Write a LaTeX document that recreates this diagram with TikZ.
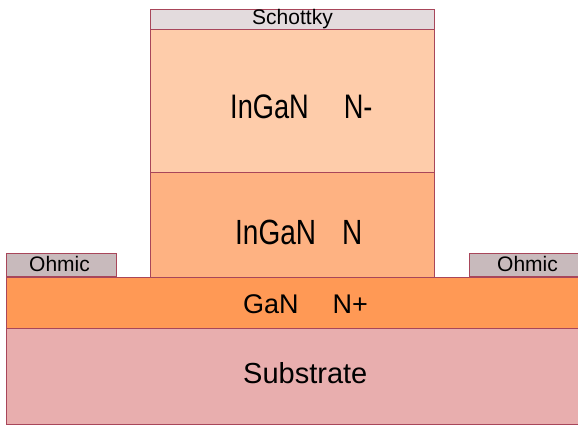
\documentclass[tikz,border=0pt]{standalone}
\usepackage{fontspec}
\setmainfont{Liberation Sans}
\newfontfamily\narrowfont[FakeStretch=0.8]{Liberation Sans}
\usepackage{xcolor}
\usepackage{tikz}
\usetikzlibrary{positioning}

\definecolor{edgecol}{RGB}{168,70,90}
\definecolor{subfill}{RGB}{232,174,174}
\definecolor{ganfill}{RGB}{255,153,85}
\definecolor{nfill}{RGB}{254,178,130}
\definecolor{nminusfill}{RGB}{254,204,170}
\definecolor{schottkyfill}{RGB}{227,219,221}
\definecolor{ohmicfill}{RGB}{200,186,188}

\begin{document}
\begin{tikzpicture}[
    x=1pt, y=-1pt,
    layer/.style={
        draw=edgecol,
        line width=1pt,
        rectangle,
        inner sep=0pt,
        anchor=north west
    },
    caption/.style={
        inner sep=0pt,
        anchor=base west
    }
]
    \useasboundingbox (0,0) rectangle (578,427);

    % Substrate and buffer layers
    \node[layer, fill=subfill, minimum width=572pt, minimum height=96pt] (substrate) at (6,328) {};
    \node[layer, fill=ganfill, minimum width=572pt, minimum height=51pt] (gan) at (6,277) {};

    % Mesa layers
    \node[layer, fill=nfill, minimum width=284pt, minimum height=105pt] (ingan) at (150,172) {};
    \node[layer, fill=nminusfill, minimum width=284pt, minimum height=143pt] (inganminus) at (150,29) {};

    % Contacts
    \node[layer, fill=schottkyfill, minimum width=284pt, minimum height=20pt] (schottky) at (150,9) {};
    \node[layer, fill=ohmicfill, minimum width=110pt, minimum height=23pt] (ohmicleft) at (6,253) {};
    \node[layer, fill=ohmicfill, minimum width=109pt, minimum height=23pt] (ohmicright) at (469,253) {};

    % Layer names
    \node[caption, anchor=base, font=\fontsize{21}{24}\selectfont] (schottkytext) at (292.5,25) {Schottky};
    \node[caption, font=\narrowfont\fontsize{34}{40}\selectfont] (inganminustext) at (230,119) {InGaN\hspace{35pt}N-};
    \node[caption, font=\narrowfont\fontsize{35}{40}\selectfont] (pngantext) at (235,245) {InGaN\hspace{26pt}N};
    \node[caption, font=\fontsize{27}{32}\selectfont] (gantext) at (243,314) {GaN\hspace{34pt}N+};
    \node[caption, font=\fontsize{29}{34}\selectfont] (substratetext) at (243,383) {Substrate};
    \node[caption, anchor=base, font=\fontsize{21}{24}\selectfont] (ohmiclefttext) at (59.5,272) {Ohmic};
    \node[caption, anchor=base, font=\fontsize{21}{24}\selectfont] (ohmicrighttext) at (527.5,272) {Ohmic};

\end{tikzpicture}
\end{document}
